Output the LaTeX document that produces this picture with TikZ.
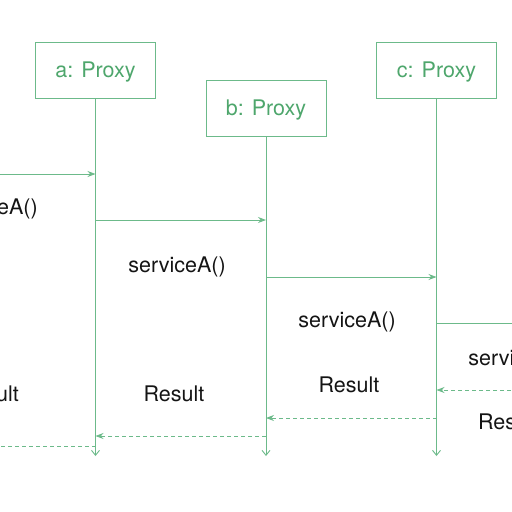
\documentclass[tikz,border=0pt]{standalone}
\usepackage{fontspec}
\setmainfont{TeX Gyre Heros}
\usetikzlibrary{arrows.meta}

\definecolor{umlgreen}{RGB}{108,186,138}
\definecolor{umltext}{RGB}{78,166,108}
\tikzset{
  proxy/.style={draw=umlgreen, line width=0.9pt, text=umltext, minimum width=120pt,
    minimum height=56pt, inner sep=0pt, text depth=1pt, font=\fontsize{21.5}{24}\selectfont},
  lifeline/.style={draw=umlgreen, line width=0.9pt, -{Straight Barb[length=5pt,width=8pt]}},
  call/.style={draw=umlgreen, line width=0.9pt, -{Stealth[length=8pt,width=6pt]}},
  reply/.style={draw=umlgreen, line width=0.8pt, dash pattern=on 4pt off 3pt,
    -{Stealth[length=8pt,width=6pt]}},
  msg/.style={anchor=base, inner sep=0pt, text=black!92, font=\fontsize{21.5}{24}\selectfont}
}

\begin{document}
\begin{tikzpicture}[x=1pt,y=-1pt]
  \useasboundingbox (0,0) rectangle (512,512);
  \clip (0,0) rectangle (512,512);

  % participants
  \node[proxy] (a) at (95.5,70) {a: Proxy};
  \node[proxy] (b) at (266,108) {b: Proxy};
  \node[proxy] (c) at (436.5,70) {c: Proxy};

  % points on the lifelines
  \coordinate (a-end) at (95.5,456);
  \coordinate (b-end) at (266,456);
  \coordinate (c-end) at (436.5,456);
  \coordinate (in) at (-6,174);
  \coordinate (a-in) at (95.5,174);
  \coordinate (a-call) at (95.5,220);
  \coordinate (b-in) at (266,220);
  \coordinate (b-call) at (266,277);
  \coordinate (c-in) at (436.5,277);
  \coordinate (c-call) at (436.5,323);
  \coordinate (out) at (518,323);
  \coordinate (back) at (518,390);
  \coordinate (c-res) at (436.5,390);
  \coordinate (c-ret) at (436.5,418);
  \coordinate (b-res) at (266,418);
  \coordinate (b-ret) at (266,436);
  \coordinate (a-res) at (95.5,436);
  \coordinate (a-ret) at (95.5,446);
  \coordinate (caller) at (-6,446);

  \draw[lifeline] (a) -- (a-end);
  \draw[lifeline] (b) -- (b-end);
  \draw[lifeline] (c) -- (c-end);

  % calls
  \draw[call] (in) -- (a-in);
  \draw[call] (a-call) -- (b-in);
  \draw[call] (b-call) -- (c-in);
  \draw[umlgreen, line width=0.9pt] (c-call) -- (out);

  % results
  \draw[reply] (back) -- (c-res);
  \draw[reply] (c-ret) -- (b-res);
  \draw[reply] (b-ret) -- (a-res);
  \draw[umlgreen, line width=0.8pt, dash pattern=on 4pt off 3pt] (a-ret) -- (caller);

  % labels
  \node[msg] (call0) at (-11,214) {serviceA()};
  \node[msg] (call1) at (177,272) {serviceA()};
  \node[msg] (call2) at (347,327) {serviceA()};
  \node[msg] (call3) at (517,365) {serviceA()};
  \node[msg] (res0) at (-11.5,401) {Result};
  \node[msg] (res1) at (174,401) {Result};
  \node[msg] (res2) at (349,392) {Result};
  \node[msg] (res3) at (508.5,429) {Result};
\end{tikzpicture}
\end{document}
